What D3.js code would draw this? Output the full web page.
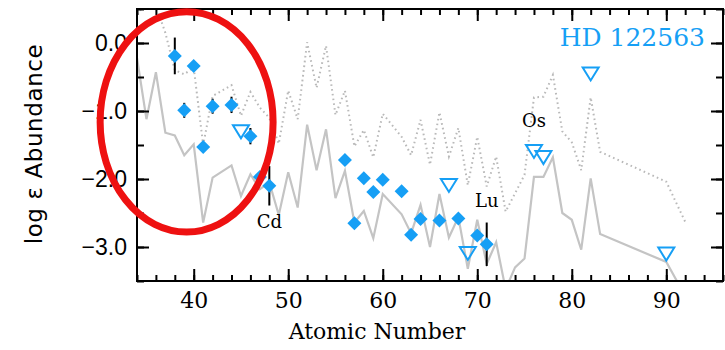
<!DOCTYPE html>
<html>
<head>
<meta charset="utf-8">
<script src="https://cdn.jsdelivr.net/npm/d3@7/dist/d3.min.js"></script>
<style>
  html, body { margin: 0; padding: 0; background: #fff; }
  svg { display: block; }
</style>
</head>
<body>
<svg id="chart" width="725" height="350"></svg>
<script>
// ---------- data ----------
// detected abundances (filled diamonds)
const obsZ      = [38, 39, 40, 41, 42, 44, 46, 47, 48, 56, 57, 58, 59, 60, 62, 63, 64, 66, 68, 70, 71];
const obsLogEps = [-0.19, -0.99, -0.34, -1.53, -0.93, -0.91, -1.37, -1.97, -2.10, -1.72, -2.65, -1.99, -2.19, -2.01, -2.18, -2.82, -2.59, -2.61, -2.58, -2.83, -2.96];
const obsErr    = [0.27, 0.11, 0, 0, 0.11, 0.12, 0.12, 0, 0.29, 0, 0, 0, 0, 0, 0, 0, 0, 0, 0, 0, 0.32];
// upper limits (open down-triangles)
const limZ      = [45, 67, 69, 76, 77, 82, 90];
const limLogEps = [-1.29, -2.08, -3.08, -1.58, -1.67, -0.44, -3.09];
// scaled solar pattern curves
const patZ      = [34, 35, 36, 37, 38, 39, 40, 41, 42, 44, 45, 46, 47, 48, 49, 50, 51, 52, 53, 54, 55, 56, 57, 58, 59, 60, 62, 63, 64, 65, 66, 67, 68, 69, 70, 71, 72, 73, 74, 75, 76, 77, 78, 79, 80, 81, 82, 83, 90, 92];
const rSolid    = [-0.22, -1.12, -0.43, -1.32, -1.36, -1.65, -1.49, -2.64, -1.98, -1.80, -2.25, -1.93, -2.15, -2.05, -2.53, -1.90, -2.42, -1.20, -1.87, -1.27, -2.28, -1.88, -2.64, -2.47, -2.87, -2.22, -2.52, -2.80, -2.38, -3.00, -2.22, -2.86, -2.56, -3.32, -2.60, -3.25, -2.93, -3.62, -3.30, -3.17, -1.97, -1.97, -1.68, -2.50, -2.60, -3.04, -1.99, -2.81, -3.22, -3.72];
const sDotted   = [0.42, 0.60, 0.55, 0.15, -0.40, -0.46, -0.36, -1.50, -0.78, -0.62, -1.07, -0.72, -0.95, -1.10, -1.48, -0.70, -1.12, 0.01, -0.66, -0.04, -1.06, -0.70, -1.52, -1.28, -1.68, -1.04, -1.38, -1.65, -1.13, -1.79, -1.02, -1.67, -1.25, -2.09, -1.38, -2.11, -1.67, -2.48, -2.21, -1.94, -0.80, -0.79, -0.47, -1.30, -1.46, -1.87, -0.80, -1.60, -2.04, -2.63];
// element labels
const labelNames = ["Cd", "Lu", "Os"];
const labelZ     = [48, 71, 76];
// axis ticks
const xMajor = [40, 50, 60, 70, 80, 90];
const xMinor = d3.range(34, 97, 2);
const yMajor = [0, -1, -2, -3];
const yMinor = [0.5, 0, -0.5, -1, -1.5, -2, -2.5, -3, -3.5];
const starName = "HD 122563";

// ---------- layout ----------
const L = 137, R = 723, T = 9, B = 281;
const svg = d3.select("#chart");
const x = d3.scaleLinear().domain([34, 96]).range([L, R]);
const y = d3.scaleLinear().domain([-3.5, 0.5]).range([B, T]);
const blue = "#169ff5";
const gray = "#c4c4c4";

svg.append("defs").append("clipPath").attr("id", "clip")
  .append("rect").attr("x", L).attr("y", T).attr("width", R - L).attr("height", B - T);

const plot = svg.append("g").attr("clip-path", "url(#clip)");

const pat = patZ.map((z, i) => ({z, r: rSolid[i], s: sDotted[i]}));
plot.append("path").datum(pat)
  .attr("d", d3.line().x(d => x(d.z)).y(d => y(d.s)))
  .attr("fill", "none").attr("stroke", "#b9b9b9").attr("stroke-width", 2)
  .attr("stroke-dasharray", "1.6,3.2");
plot.append("path").datum(pat)
  .attr("d", d3.line().x(d => x(d.z)).y(d => y(d.r)))
  .attr("fill", "none").attr("stroke", gray).attr("stroke-width", 2.2)
  .attr("stroke-linejoin", "miter");

// error bars
const obs = obsZ.map((z, i) => ({z, v: obsLogEps[i], e: obsErr[i]}));
plot.selectAll("line.err").data(obs.filter(d => d.e > 0)).enter().append("line")
  .attr("x1", d => x(d.z)).attr("x2", d => x(d.z))
  .attr("y1", d => y(d.v + d.e)).attr("y2", d => y(d.v - d.e))
  .attr("stroke", "#000").attr("stroke-width", 2);

// diamonds
const dia = d3.symbol().type(d3.symbolSquare).size(98);
plot.selectAll("path.dia").data(obs).enter().append("path")
  .attr("d", dia)
  .attr("transform", d => `translate(${x(d.z)},${y(d.v)}) rotate(45)`)
  .attr("fill", blue);

// upper limits
const lim = limZ.map((z, i) => ({z, v: limLogEps[i]}));
plot.selectAll("path.lim").data(lim).enter().append("path")
  .attr("d", "M-8,-5.5 L8,-5.5 L0,7.5 Z")
  .attr("transform", d => `translate(${x(d.z)},${y(d.v)})`)
  .attr("fill", "none").attr("stroke", blue).attr("stroke-width", 2);

// element labels
const lab = labelNames.map((n, i) => ({n, z: labelZ[i]}));
const labOffset = {Cd: 42, Lu: -37, Os: -23};
function valueAt(z) {
  const i = obsZ.indexOf(z);
  return i >= 0 ? obsLogEps[i] : limLogEps[limZ.indexOf(z)];
}
svg.selectAll("text.lab").data(lab).enter().append("text")
  .attr("x", d => x(d.z))
  .attr("y", d => y(valueAt(d.z)) + labOffset[d.n])
  .attr("text-anchor", "middle")
  .attr("font-family", "DejaVu Serif, serif").attr("font-size", 18)
  .text(d => d.n);

// star name
svg.append("text").attr("x", 705).attr("y", 46).attr("text-anchor", "end")
  .attr("font-family", "DejaVu Serif, serif").attr("font-size", 25).attr("fill", blue)
  .text(starName);

// ---------- axes ----------
function styleAxis(g) {
  g.select(".domain").remove();
  g.selectAll(".tick line").attr("stroke", "#000").attr("stroke-width", 2);
}
const fmtY = d => (d === 0 ? "0.0" : (d < 0 ? "\u2212" : "") + Math.abs(d).toFixed(1));

svg.append("g").attr("transform", `translate(0,${B})`)
  .call(d3.axisBottom(x).tickValues(xMinor).tickSize(-6).tickFormat(""))
  .call(styleAxis);
svg.append("g").attr("transform", `translate(0,${B})`)
  .call(d3.axisBottom(x).tickValues(xMajor).tickSize(-12).tickPadding(11).tickFormat(d3.format("d")))
  .call(styleAxis)
  .call(g => g.selectAll("text").attr("font-family", "DejaVu Serif, serif").attr("font-size", 22).attr("fill", "#000"));
svg.append("g").attr("transform", `translate(0,${T})`)
  .call(d3.axisTop(x).tickValues(xMinor).tickSize(-6).tickFormat(""))
  .call(styleAxis);
svg.append("g").attr("transform", `translate(0,${T})`)
  .call(d3.axisTop(x).tickValues(xMajor).tickSize(-12).tickFormat(""))
  .call(styleAxis);

svg.append("g").attr("transform", `translate(${L},0)`)
  .call(d3.axisLeft(y).tickValues(yMinor).tickSize(-7).tickFormat(""))
  .call(styleAxis);
svg.append("g").attr("transform", `translate(${L},0)`)
  .call(d3.axisLeft(y).tickValues(yMajor).tickSize(-12).tickPadding(10).tickFormat(fmtY))
  .call(styleAxis)
  .call(g => g.selectAll("text").attr("font-family", "Liberation Sans, Arial, sans-serif").attr("font-size", 23).attr("fill", "#000"));
svg.append("g").attr("transform", `translate(${R},0)`)
  .call(d3.axisRight(y).tickValues(yMinor).tickSize(-7).tickFormat(""))
  .call(styleAxis);
svg.append("g").attr("transform", `translate(${R},0)`)
  .call(d3.axisRight(y).tickValues(yMajor).tickSize(-12).tickFormat(""))
  .call(styleAxis);

// frame
svg.append("rect").attr("x", L).attr("y", T).attr("width", R - L).attr("height", B - T)
  .attr("fill", "none").attr("stroke", "#000").attr("stroke-width", 2);

// axis titles
svg.append("text").attr("x", 377).attr("y", 339).attr("text-anchor", "middle")
  .attr("font-family", "DejaVu Serif, serif").attr("font-size", 22).text("Atomic Number");
svg.append("text").attr("transform", `translate(42,144) rotate(-90)`)
  .attr("text-anchor", "middle")
  .attr("font-family", "DejaVu Sans, sans-serif").attr("font-size", 23).attr("letter-spacing", 0.6)
  .text("log \u03b5 Abundance");

// red annotation ellipse (in data coordinates)
const ell = {z: 39.25, v: -1.16, rz: 9.15, rv: 1.62};
svg.append("ellipse")
  .attr("cx", x(ell.z)).attr("cy", y(ell.v))
  .attr("rx", x(ell.z + ell.rz) - x(ell.z)).attr("ry", y(ell.v - ell.rv) - y(ell.v))
  .attr("fill", "none").attr("stroke", "#ee1111").attr("stroke-width", 7);
</script>
</body>
</html>
